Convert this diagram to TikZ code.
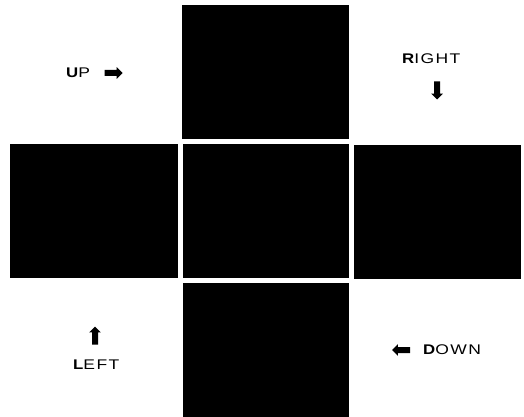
\documentclass[tikz,border=0pt]{standalone}
\usepackage{fontspec}
\setmainfont{Liberation Sans}[FakeStretch=1.25, LetterSpace=10]
\newfontfamily\capfont{Liberation Sans Bold}[FakeStretch=1.2, LetterSpace=10]
\usetikzlibrary{shapes.arrows}
\tikzset{
  panel/.style={fill=black, draw=none, inner sep=0pt, anchor=north west},
  dirlabel/.style={anchor=west, inner sep=0pt, font=\fontsize{14}{14}\selectfont},
  blockarrow/.style={single arrow, fill=black, draw=none, inner sep=2.8pt,
    single arrow head extend=2.8pt, minimum height=18pt, minimum width=11pt}
}
\newcommand{\firstcap}[2]{{\capfont #1}#2}
\begin{document}
\begin{tikzpicture}[x=1pt,y=-1pt]
  \useasboundingbox (0,0) rectangle (524,417);
  % five panels in a cross
  \node[panel, minimum width=167pt, minimum height=134pt] (top)    at (182,5)   {};
  \node[panel, minimum width=168pt, minimum height=134pt] (left)   at (10,144)  {};
  \node[panel, minimum width=166pt, minimum height=134pt] (centre) at (183,144) {};
  \node[panel, minimum width=167pt, minimum height=134pt] (right)  at (354,145) {};
  \node[panel, minimum width=166pt, minimum height=134pt] (bottom) at (183,283) {};
  % direction labels with their arrows
  \node[dirlabel] (up) at (66,73) {\firstcap{U}{P}};
  \node[blockarrow, shape border rotate=0] (uparr) at (112,73) {};
  \node[dirlabel] (rt) at (402,59) {\firstcap{R}{IGHT}};
  \node[blockarrow, shape border rotate=270] (rtarr) at (437,89) {};
  \node[blockarrow, shape border rotate=90] (lfarr) at (95,337) {};
  \node[dirlabel] (lf) at (73,365) {\firstcap{L}{EFT}};
  \node[blockarrow, shape border rotate=180] (dnarr) at (402.5,350) {};
  \node[dirlabel] (dn) at (423,350) {\firstcap{D}{OWN}};
\end{tikzpicture}
\end{document}
